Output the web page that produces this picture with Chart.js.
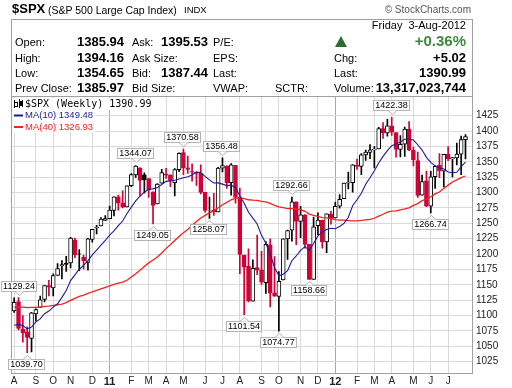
<!DOCTYPE html>
<html lang="en">
<head>
<meta charset="UTF-8">
<title>$SPX weekly</title>
<script src="https://cdn.jsdelivr.net/npm/chart.js"></script>
<style>
  body { margin: 0; background: #fff; font-family: "Liberation Sans", Arial, sans-serif; }
  #wrap { position: relative; width: 512px; height: 388px; overflow: hidden; }
  #chart { position: absolute; left: 0; top: 0; }
  .t { position: absolute; white-space: nowrap; line-height: 14px; font-size: 11px; color: #000; }
  .v { font-weight: bold; font-size: 13px; }
  #box { position: absolute; left: 11px; top: 19px; width: 460px; height: 78px; border: 1px solid #a0a0a0; border-bottom: none; }
  #up { position: absolute; left: 335px; top: 36px; width: 0; height: 0;
        border-left: 6px solid transparent; border-right: 6px solid transparent; border-bottom: 11px solid #2f6b2f; }
</style>
</head>
<body>
<div id="wrap">
  <canvas id="chart" width="512" height="388"></canvas>

  <!-- Encabezado -->
  <div class="t" style="left:12px;top:2px;font-size:13px;font-weight:bold;">$SPX</div>
  <div class="t" style="left:48px;top:3px;font-size:10.5px;">(S&amp;P 500 Large Cap Index)</div>
  <div class="t" style="left:184px;top:3px;font-size:9.5px;">INDX</div>
  <div class="t" style="right:41px;top:3px;font-size:10px;color:#555;">&copy; StockCharts.com</div>
  <div id="box"></div>
  <div class="t" style="right:46px;top:18px;">Friday&nbsp; 3-Aug-2012</div>

  <div class="t" style="left:15px;top:35px;">Open:</div>
  <div class="t v" style="left:77px;top:35px;">1385.94</div>
  <div class="t" style="left:132px;top:35px;">Ask:</div>
  <div class="t v" style="left:161px;top:35px;">1395.53</div>
  <div class="t" style="left:213px;top:35px;">P/E:</div>
  <div id="up"></div>
  <div class="t" style="right:46px;top:34px;font-size:15px;font-weight:bold;color:#3d8a3d;">+0.36%</div>

  <div class="t" style="left:15px;top:51px;">High:</div>
  <div class="t v" style="left:77px;top:51px;">1394.16</div>
  <div class="t" style="left:132px;top:51px;">Ask Size:</div>
  <div class="t" style="left:213px;top:51px;">EPS:</div>
  <div class="t" style="left:334px;top:51px;">Chg:</div>
  <div class="t v" style="right:46px;top:51px;">+5.02</div>

  <div class="t" style="left:15px;top:66px;">Low:</div>
  <div class="t v" style="left:77px;top:66px;">1354.65</div>
  <div class="t" style="left:132px;top:66px;">Bid:</div>
  <div class="t v" style="left:161px;top:66px;">1387.44</div>
  <div class="t" style="left:213px;top:66px;">Last:</div>
  <div class="t" style="left:334px;top:66px;">Last:</div>
  <div class="t v" style="right:46px;top:66px;">1390.99</div>

  <div class="t" style="left:15px;top:81px;">Prev Close:</div>
  <div class="t v" style="left:77px;top:81px;">1385.97</div>
  <div class="t" style="left:132px;top:81px;">Bid Size:</div>
  <div class="t" style="left:213px;top:81px;">VWAP:</div>
  <div class="t" style="left:275px;top:81px;">SCTR:</div>
  <div class="t" style="left:334px;top:81px;">Volume:</div>
  <div class="t v" style="right:46px;top:81px;">13,317,023,744</div>
</div>

<script>
  // Cierres semanales previos (solo para arrancar las medias moviles)
  const priorCloses = [1069.30, 1093.48, 1091.38, 1091.49, 1105.98, 1106.41, 1102.47, 1126.48, 1115.10,
    1144.98, 1136.03, 1091.76, 1073.87, 1066.19, 1075.51, 1109.17, 1104.49, 1138.70, 1149.99, 1159.90,
    1166.59, 1178.10, 1194.37, 1192.13, 1217.28, 1186.69, 1110.88, 1135.68, 1087.69, 1089.41, 1064.88,
    1091.60, 1117.51, 1076.76, 1022.58, 1077.96, 1064.88, 1102.66, 1101.60];

  // Velas semanales, 6-Aug-2010 .. 3-Aug-2012
  const opens = [1107.53, 1122.80, 1077.60, 1073.36, 1062.90, 1102.60, 1113.38, 1126.21, 1148.64, 1144.96,
    1165.32, 1180.52, 1184.74, 1185.71, 1223.24, 1200.44, 1194.79, 1186.60, 1223.87, 1242.52,
    1245.76, 1254.66, 1257.62, 1270.84, 1293.22, 1283.29, 1276.69, 1311.19, 1328.73, 1340.38,
    1328.64, 1322.72, 1301.19, 1281.65, 1315.45, 1329.48, 1329.01, 1315.92, 1337.14, 1365.21,
    1340.20, 1334.10, 1333.07, 1331.10, 1300.26, 1271.31, 1271.50, 1268.44, 1339.62, 1343.31,
    1315.94, 1344.32, 1292.59, 1198.48, 1179.99, 1123.55, 1177.91, 1173.97, 1153.50, 1214.99,
    1136.91, 1131.21, 1158.15, 1224.47, 1238.72, 1284.96, 1253.21, 1263.85, 1215.62, 1158.67,
    1246.03, 1255.05, 1219.74, 1265.02, 1258.86, 1277.83, 1290.22, 1315.29, 1316.16, 1344.32,
    1342.61, 1361.22, 1365.20, 1369.59, 1370.78, 1404.17, 1397.11, 1408.47, 1397.45, 1370.27,
    1378.53, 1403.26, 1368.79, 1351.93, 1295.73, 1318.90, 1278.04, 1325.72, 1344.78, 1334.90,
    1362.33, 1354.66, 1356.50, 1362.34, 1385.94];
  const highs = [1128.75, 1129.24, 1100.14, 1081.58, 1105.10, 1110.88, 1131.47, 1148.90, 1157.16, 1167.73,
    1184.38, 1189.43, 1196.14, 1227.08, 1225.84, 1207.43, 1198.52, 1225.57, 1240.40, 1246.73,
    1259.39, 1262.60, 1278.17, 1293.24, 1296.06, 1302.67, 1311.00, 1330.79, 1344.07, 1340.38,
    1332.09, 1322.72, 1301.19, 1314.80, 1337.85, 1339.46, 1329.01, 1339.00, 1364.56, 1370.58,
    1359.44, 1346.82, 1333.07, 1345.20, 1300.26, 1292.50, 1298.61, 1341.01, 1356.48, 1343.31,
    1347.00, 1344.32, 1307.38, 1198.48, 1208.47, 1190.68, 1230.71, 1204.40, 1220.39, 1224.61,
    1195.86, 1171.40, 1224.61, 1239.03, 1292.66, 1284.96, 1277.55, 1264.25, 1215.62, 1260.08,
    1267.06, 1255.10, 1265.42, 1269.37, 1284.62, 1296.82, 1315.49, 1333.47, 1345.34, 1354.32,
    1363.40, 1368.92, 1378.04, 1374.76, 1405.88, 1414.00, 1419.15, 1422.38, 1397.45, 1392.76,
    1406.64, 1415.32, 1373.91, 1365.88, 1328.49, 1334.93, 1334.52, 1343.32, 1363.46, 1362.17,
    1374.81, 1357.26, 1380.39, 1391.74, 1394.16];
  const lows = [1105.00, 1076.61, 1056.88, 1039.70, 1040.88, 1091.15, 1113.38, 1122.25, 1131.87, 1131.87,
    1165.32, 1159.71, 1171.70, 1177.65, 1194.08, 1173.00, 1176.03, 1173.64, 1219.52, 1232.85,
    1245.76, 1254.66, 1257.62, 1262.18, 1271.26, 1275.10, 1276.69, 1309.49, 1324.61, 1294.26,
    1299.19, 1291.99, 1249.05, 1281.65, 1315.45, 1322.94, 1309.66, 1294.70, 1334.00, 1329.17,
    1331.08, 1318.51, 1311.80, 1297.90, 1268.19, 1258.07, 1262.87, 1268.44, 1333.47, 1306.85,
    1295.92, 1282.86, 1168.09, 1101.54, 1122.05, 1123.55, 1166.41, 1150.63, 1136.07, 1114.22,
    1131.07, 1074.77, 1158.15, 1191.48, 1220.92, 1215.42, 1226.64, 1209.43, 1158.66, 1158.67,
    1231.47, 1209.47, 1202.37, 1248.64, 1258.86, 1274.65, 1290.22, 1306.06, 1300.49, 1337.49,
    1329.15, 1352.28, 1354.92, 1340.03, 1370.78, 1388.13, 1391.56, 1392.92, 1357.38, 1357.99,
    1358.79, 1367.96, 1343.13, 1291.98, 1295.73, 1277.25, 1266.74, 1306.62, 1324.41, 1309.27,
    1351.82, 1325.41, 1345.07, 1329.24, 1354.65];
  const closes = [1121.64, 1079.25, 1071.69, 1064.59, 1104.51, 1109.55, 1125.59, 1148.67, 1146.24, 1165.15,
    1176.19, 1183.08, 1183.26, 1225.85, 1199.21, 1199.73, 1189.40, 1224.71, 1240.40, 1243.91,
    1256.77, 1257.64, 1271.50, 1293.24, 1283.35, 1276.34, 1310.87, 1329.15, 1343.01, 1319.88,
    1321.15, 1304.28, 1279.21, 1313.80, 1332.41, 1328.17, 1319.68, 1337.38, 1363.61, 1340.20,
    1337.77, 1333.27, 1331.10, 1300.16, 1270.98, 1271.50, 1268.45, 1339.67, 1343.80, 1316.14,
    1345.02, 1292.28, 1199.38, 1178.81, 1123.53, 1176.80, 1173.97, 1154.23, 1216.01, 1136.43,
    1131.42, 1155.46, 1224.58, 1238.25, 1285.09, 1253.23, 1263.85, 1215.65, 1158.67, 1244.28,
    1255.19, 1219.66, 1265.33, 1257.60, 1277.81, 1289.09, 1315.38, 1316.33, 1344.90, 1342.64,
    1361.23, 1365.74, 1369.63, 1370.87, 1404.17, 1397.11, 1408.47, 1398.08, 1370.26, 1378.53,
    1403.36, 1369.10, 1353.39, 1295.22, 1317.82, 1278.04, 1325.66, 1342.84, 1335.02, 1362.16,
    1354.68, 1356.78, 1362.66, 1385.97, 1390.99];

  // Eje X: semana en que empieza cada mes
  const monthIdx = [0, 5, 9, 13, 18, 22, 27, 31, 35, 39, 44, 48, 52, 57, 61, 66, 70, 74, 79, 83, 87, 92, 96, 100];
  const monthLabels = ['A', 'S', 'O', 'N', 'D', '11', 'F', 'M', 'A', 'M', 'J', 'J', 'A', 'S', 'O', 'N', 'D', '12', 'F', 'M', 'A', 'M', 'J', 'J'];
  const yearIdx = [22, 74];
  const yTicks = [1025, 1050, 1075, 1100, 1125, 1150, 1175, 1200, 1225, 1250, 1275, 1300, 1325, 1350, 1375, 1400, 1425];

  // Etiquetas de maximos / minimos
  const callouts = [[1, 1129.24, 'up'], [3, 1039.70, 'down'], [28, 1344.07, 'up'], [32, 1249.05, 'down'],
    [39, 1370.58, 'up'], [45, 1258.07, 'down'], [48, 1356.48, 'up'], [53, 1101.54, 'down'],
    [61, 1074.77, 'down'], [64, 1292.66, 'up'], [68, 1158.66, 'down'], [87, 1422.38, 'up'], [96, 1266.74, 'down']];

  const RED = '#d10036', BLUE = '#1c1c96', MARED = '#f52020';

  // Medias moviles simples de los cierres
  const allCloses = priorCloses.concat(closes);
  function sma(n) {
    return closes.map((c, i) => {
      const end = priorCloses.length + i + 1;
      const win = allCloses.slice(end - n, end);
      return win.reduce((s, v) => s + v, 0) / n;
    });
  }
  const ma10 = sma(10), ma40 = sma(40);

  const candleColor = closes.map((c, i) => {
    const prev = i === 0 ? priorCloses[priorCloses.length - 1] : closes[i - 1];
    return c >= prev ? '#000' : RED;
  });
  const candleFill = closes.map((c, i) => c >= opens[i] ? '#fff' : candleColor[i]);

  const overlay = {
    id: 'overlay',
    afterDraw(chart) {
      const { ctx, chartArea: a, scales: { x, y } } = chart;
      ctx.save();
      ctx.lineWidth = 1;
      ctx.strokeStyle = '#a0a0a0';
      ctx.strokeRect(Math.round(a.left) - 0.5, Math.round(a.top) - 0.5,
        Math.round(a.right - a.left) + 1, Math.round(a.bottom - a.top) + 1);

      // cajas de maximos y minimos
      ctx.font = '9px "Liberation Sans", Arial, sans-serif';
      ctx.textAlign = 'center';
      ctx.textBaseline = 'middle';
      callouts.forEach(([i, v, side]) => {
        const txt = v.toFixed(2);
        const w = Math.ceil(ctx.measureText(txt).width) + 4, h = 11;
        const cx = Math.round(x.getPixelForValue(i));
        const py = Math.round(y.getPixelForValue(v));
        const bx = Math.max(0, cx - Math.round(w / 2));
        const by = side === 'up' ? py - 6 - h : py + 6;
        ctx.fillStyle = '#fff';
        ctx.fillRect(bx, by, w, h);
        ctx.strokeStyle = '#b4b4b4';
        ctx.strokeRect(bx + 0.5, by + 0.5, w - 1, h - 1);
        const ey = side === 'up' ? by + h - 0.5 : by + 0.5;
        const ty = side === 'up' ? ey + 4 : ey - 4;
        ctx.beginPath();
        ctx.moveTo(cx - 4, ey); ctx.lineTo(cx + 0.5, ty); ctx.lineTo(cx + 5, ey);
        ctx.closePath();
        ctx.fill();
        ctx.beginPath();
        ctx.moveTo(cx - 4, ey); ctx.lineTo(cx + 0.5, ty); ctx.lineTo(cx + 5, ey);
        ctx.stroke();
        ctx.fillStyle = '#000';
        ctx.fillText(txt, bx + w / 2, by + h / 2 + 0.5);
      });

      // leyenda
      ctx.textAlign = 'left';
      const lx = 25;
      const t1 = '$SPX (Weekly) ' + closes[closes.length - 1].toFixed(2);
      const t2 = 'MA(10) ' + ma10[ma10.length - 1].toFixed(2);
      const t3 = 'MA(40) ' + ma40[ma40.length - 1].toFixed(2);
      ctx.font = '10px "DejaVu Sans Mono", monospace';
      ctx.fillStyle = '#fff';
      ctx.fillRect(a.left + 1, 98, ctx.measureText(t1).width + lx - a.left + 1, 12);
      ctx.fillStyle = '#000';
      ctx.fillText(t1, lx, 104);
      // icono de velas
      ctx.fillRect(14, 100, 1, 8); ctx.fillRect(15, 102, 2, 1); ctx.fillRect(15, 106, 2, 1); ctx.fillRect(17, 102, 1, 5);
      ctx.fillRect(19, 99, 1, 9); ctx.fillRect(20, 101, 2, 5); ctx.fillRect(22, 100, 1, 7);

      ctx.font = '9.5px "Liberation Sans", Arial, sans-serif';
      [[t2, BLUE, 115.5], [t3, MARED, 127]].forEach(([t, col, ty]) => {
        ctx.fillStyle = '#fff';
        ctx.fillRect(a.left + 1, ty - 5.5, ctx.measureText(t).width + lx - a.left + 1, 11);
        ctx.fillStyle = col;
        ctx.fillRect(14, ty - 1, 9, 2);
        ctx.fillText(t, lx, ty);
      });
      ctx.restore();
    }
  };

  Chart.defaults.font.family = '"Liberation Sans", Arial, sans-serif';
  Chart.defaults.color = '#222';

  new Chart(document.getElementById('chart'), {
    type: 'bar',
    data: {
      datasets: [
        {
          type: 'line', label: 'MA(10)', order: 0,
          data: ma10.map((v, i) => ({ x: i, y: v })),
          borderColor: BLUE, borderWidth: 1.1, pointRadius: 0, tension: 0
        },
        {
          type: 'line', label: 'MA(40)', order: 0,
          data: ma40.map((v, i) => ({ x: i, y: v })),
          borderColor: MARED, borderWidth: 1.3, pointRadius: 0, tension: 0
        },
        {
          label: 'body', order: 1, grouped: false,
          data: opens.map((o, i) => ({ x: i, y: [o, closes[i]] })),
          backgroundColor: candleFill, borderColor: candleColor,
          borderWidth: 1, borderSkipped: false, barThickness: 4
        },
        {
          label: 'wick', order: 2, grouped: false,
          data: lows.map((l, i) => ({ x: i, y: [l, highs[i]] })),
          backgroundColor: candleColor, borderWidth: 0, barThickness: 1
        }
      ]
    },
    options: {
      responsive: false,
      animation: false,
      layout: { padding: { left: 12, top: 97, right: 0, bottom: 0 } },
      plugins: { legend: { display: false }, tooltip: { enabled: false } },
      scales: {
        x: {
          type: 'linear', min: -0.5, max: 105.5, offset: false,
          afterBuildTicks: axis => { axis.ticks = monthIdx.map(v => ({ value: v })); },
          afterFit: axis => { axis.height = 15.5; },
          ticks: {
            autoSkip: false, maxRotation: 0, minRotation: 0, padding: 3,
            callback: (v, idx) => monthLabels[idx],
            font: ctx => yearIdx.includes(ctx.tick && ctx.tick.value) ? { size: 11, weight: 'bold' } : { size: 10 }
          },
          grid: {
            offset: false, drawTicks: false,
            color: ctx => yearIdx.includes(ctx.tick && ctx.tick.value) ? '#a8a8a8' : '#dadada'
          },
          border: { display: false }
        },
        y: {
          position: 'right', min: 1007.4, max: 1455.4,
          afterBuildTicks: axis => { axis.ticks = yTicks.map(v => ({ value: v })); },
          afterFit: axis => { axis.width = 40; },
          ticks: { padding: 4, font: { size: 10 }, callback: v => String(v) },
          grid: { drawTicks: false, color: '#dadada' },
          border: { display: false }
        }
      }
    },
    plugins: [overlay]
  });
</script>
</body>
</html>
